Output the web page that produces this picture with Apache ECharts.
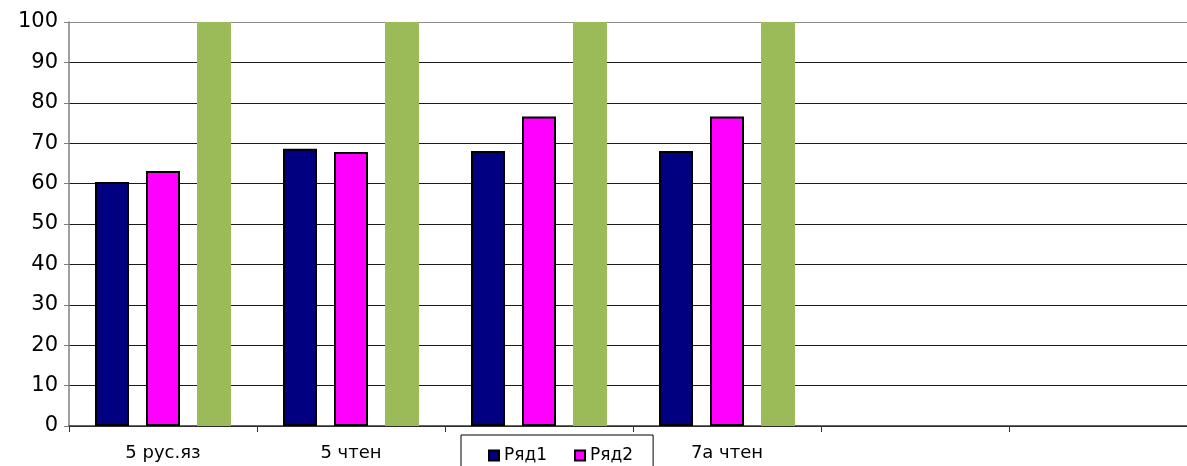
<!DOCTYPE html>
<html>
<head>
<meta charset="utf-8">
<script src="https://cdn.jsdelivr.net/npm/echarts@6/dist/echarts.min.js"></script>
<style>
html,body{margin:0;padding:0;background:#fff;overflow:hidden;}
#c{width:1197px;height:466px;}
</style>
</head>
<body>
<div id="c"></div>
<script>
var categories = ['5 рус.яз', '5 чтен', '7а рус.яз', '7а чтен', '', ''];
var seriesNames = ['Ряд1', 'Ряд2', 'Ряд3'];
var legendNames = ['Ряд1', 'Ряд2'];
var row1 = [60.4, 68.6, 68.1, 68.1, null, null];
var row2 = [63.1, 67.8, 76.6, 76.6, null, null];
var row3 = [100, 100, 100, 100, null, null];
var yTicks = [0, 10, 20, 30, 40, 50, 60, 70, 80, 90, 100];

var chart = echarts.init(document.getElementById('c'), null, {renderer: 'canvas'});
var font = 'DejaVu Sans, Arial, sans-serif';
var splitColors = yTicks.map(function (v) { return v === 100 ? '#8c8c8c' : '#1a1a1a'; });
chart.setOption({
  animation: false,
  backgroundColor: '#fff',
  textStyle: {fontFamily: font},
  grid: {left: 69, top: 22, right: 0, bottom: 40, containLabel: false},
  legend: {
    data: legendNames,
    left: 461,
    top: 435,
    padding: [12, 20, 20, 27],
    backgroundColor: '#fff',
    borderColor: '#000',
    borderWidth: 1,
    borderRadius: 0,
    itemWidth: 10,
    itemHeight: 10,
    itemGap: 27,
    icon: 'rect',
    textStyle: {fontFamily: font, fontSize: 17, color: '#000'},
    z: 10
  },
  xAxis: {
    type: 'category',
    data: categories,
    axisLine: {lineStyle: {color: '#333', width: 1.5}},
    axisTick: {show: true, alignWithLabel: false, length: 6, lineStyle: {color: '#333'}},
    axisLabel: {fontFamily: font, fontSize: 18, color: '#000', margin: 18},
    splitLine: {show: false}
  },
  yAxis: {
    type: 'value',
    min: 0,
    max: 100,
    interval: 10,
    axisLine: {show: true, lineStyle: {color: '#808080', width: 1.5}},
    axisTick: {show: true, length: 5, lineStyle: {color: '#808080'}},
    axisLabel: {fontFamily: font, fontSize: 21, color: '#000', margin: 11,
      formatter: function (v) { return yTicks.indexOf(v) >= 0 ? String(v) : ''; }},
    splitLine: {show: true, lineStyle: {color: splitColors, width: 1}}
  },
  series: [
    {name: seriesNames[0], type: 'bar', data: row1, barWidth: 34, barGap: '50%',
     itemStyle: {color: '#000080', borderColor: '#000', borderWidth: 2}},
    {name: seriesNames[1], type: 'bar', data: row2, barWidth: 34, barGap: '50%',
     itemStyle: {color: '#ff00ff', borderColor: '#000', borderWidth: 2}},
    {name: seriesNames[2], type: 'bar', data: row3, barWidth: 34, barGap: '50%',
     itemStyle: {color: '#9bbb59', borderWidth: 0}}
  ]
});
</script>
</body>
</html>
